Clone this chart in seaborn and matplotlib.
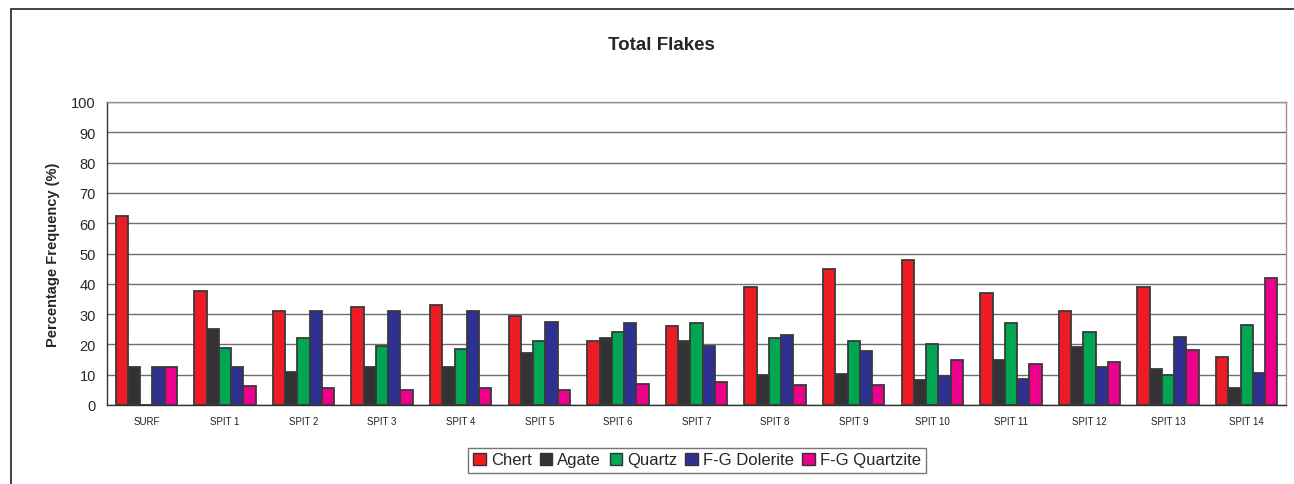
import numpy as np
import pandas as pd
import matplotlib
matplotlib.use("Agg")
import matplotlib.pyplot as plt
from matplotlib.patches import Rectangle
from matplotlib.ticker import MultipleLocator, FixedLocator
import seaborn as sns

# Datos (porcentaje de lascas por materia prima)
spits = ['SURF', 'SPIT 1', 'SPIT 2', 'SPIT 3', 'SPIT 4', 'SPIT 5', 'SPIT 6', 'SPIT 7',
         'SPIT 8', 'SPIT 9', 'SPIT 10', 'SPIT 11', 'SPIT 12', 'SPIT 13', 'SPIT 14']
materiales = ['Chert', 'Agate', 'Quartz', 'F-G Dolerite', 'F-G Quartzite']

chert = [62.5, 37.5, 31.0, 32.5, 33.0, 29.5, 21.0, 26.0, 39.0, 45.0, 48.0, 37.0, 31.0, 39.0, 16.0]
agate = [12.5, 25.0, 11.0, 12.5, 12.5, 17.0, 22.0, 21.0, 10.0, 10.3, 8.3, 14.8, 19.0, 12.0, 5.5]
quartz = [0.0, 18.8, 22.0, 19.5, 18.5, 21.0, 24.0, 27.0, 22.0, 21.0, 20.0, 27.0, 24.0, 9.8, 26.3]
dolerite = [12.5, 12.5, 31.0, 31.0, 31.0, 27.5, 27.0, 19.5, 23.0, 17.8, 9.5, 8.7, 12.7, 22.3, 10.6]
quartzite = [12.5, 6.3, 5.5, 5.0, 5.5, 5.0, 7.0, 7.5, 6.5, 6.5, 15.0, 13.5, 14.3, 18.0, 42.0]

colores = ['#ED1C24', '#333336', '#00A651', '#2E3192', '#EC008C']

df = pd.DataFrame({'Spit': spits, 'Chert': chert, 'Agate': agate, 'Quartz': quartz,
                   'F-G Dolerite': dolerite, 'F-G Quartzite': quartzite})
largo = df.melt(id_vars='Spit', var_name='Material', value_name='Porcentaje')

sns.set_style('white')
plt.rcParams['font.family'] = ['Liberation Sans', 'DejaVu Sans']

fig = plt.figure(figsize=(12.94, 4.85), dpi=100)
ax = fig.add_axes([107/1294, 1 - 406/485, (1286 - 107)/1294, (406 - 103)/485])

sns.barplot(data=largo, x='Spit', y='Porcentaje', hue='Material', order=spits,
            hue_order=materiales, palette=colores, saturation=1, width=0.78,
            edgecolor='#3a3a3a', linewidth=1.3, ax=ax, legend=False)

ax.set_ylim(0, 100)
ax.set_xlim(-0.5, len(spits) - 0.5)
ax.yaxis.set_major_locator(MultipleLocator(10))
ax.grid(axis='y', color='#6e6e6e', linewidth=1.0)
ax.set_axisbelow(True)
for lado in ['top', 'right']:
    ax.spines[lado].set_color('#a09090')
    ax.spines[lado].set_linewidth(1.0)
for lado in ['left', 'bottom']:
    ax.spines[lado].set_color('#333333')
    ax.spines[lado].set_linewidth(1.0)

ax.tick_params(axis='y', direction='out', length=5, width=1, color='#333333',
               labelsize=10.5, pad=3)
ax.tick_params(axis='x', which='major', length=0, labelsize=7, pad=8, labelcolor='#222222')
ax.xaxis.set_minor_locator(FixedLocator(np.arange(-0.5, len(spits), 1.0)))
ax.tick_params(axis='x', which='minor', direction='out', length=4, width=1, color='#333333')

ax.set_xlabel('')
ax.set_ylabel('Percentage Frequency (%)', fontsize=10.5, fontweight='bold', labelpad=8)
fig.text(0.511, 1 - 45/485, 'Total Flakes', ha='center', va='center', fontsize=13.5,
         fontweight='bold')

# Leyenda
handles = [Rectangle((0, 0), 1, 1, facecolor=c, edgecolor='#333333', linewidth=1)
           for c in colores]
ley = fig.legend(handles, materiales, loc='center', bbox_to_anchor=(697/1294, 1 - 461/485),
                 ncol=5, fontsize=12, frameon=True, fancybox=False, handlelength=0.75,
                 handleheight=0.75, handletextpad=0.3, columnspacing=0.5,
                 borderpad=0.3)
ley.get_frame().set_edgecolor('#555555')
ley.get_frame().set_linewidth(1.0)

# Marco exterior del grafico
marco = Rectangle((11/1294, -0.05), 1.05, 1 - 10/485 + 0.05, transform=fig.transFigure,
                  fill=False, edgecolor='#222222', linewidth=1.2)
fig.patches.append(marco)

fig.savefig('out.png', dpi=100)
